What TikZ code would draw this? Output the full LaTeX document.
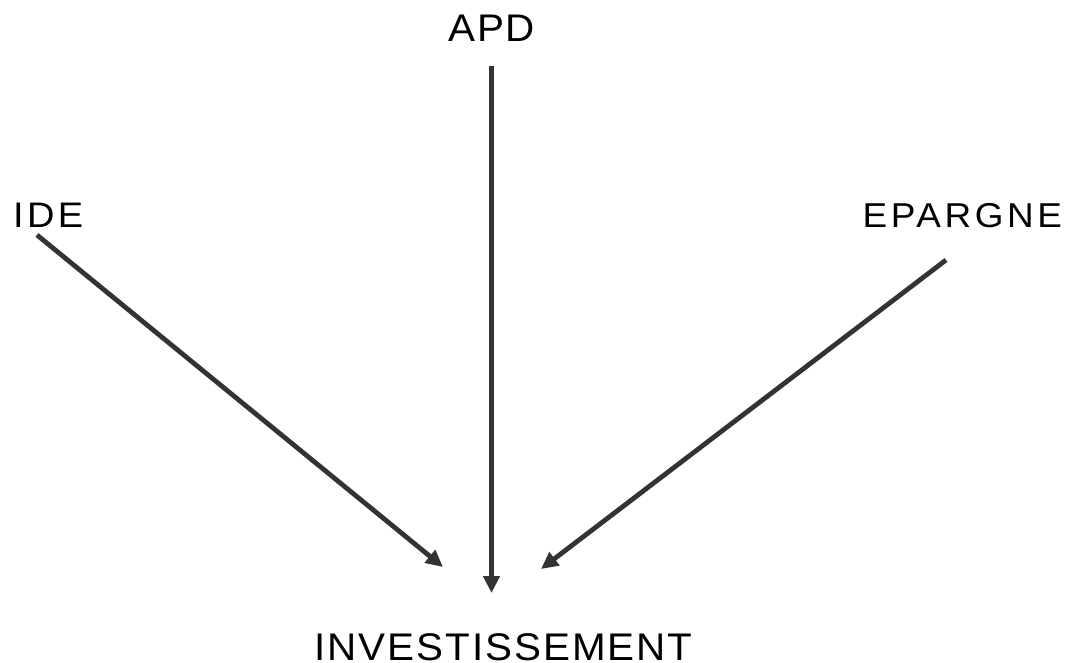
\documentclass[tikz,border=0pt]{standalone}
\usepackage{fontspec}
\setmainfont{Liberation Sans}
\usetikzlibrary{arrows.meta}
\definecolor{arrowgray}{HTML}{333333}
\tikzset{
  lbl/.style={inner sep=0pt, anchor=base, text=black},
  flow/.style={draw=arrowgray, line width=4.8pt, -{Triangle[length=17pt,width=16pt]}}
}
\begin{document}
\begin{tikzpicture}[x=1pt,y=-1pt]
\useasboundingbox (0,0) rectangle (1068,663);
\node[lbl] (apd) at (491.8,42) {\scalebox{1.05}[1]{\fontsize{38.5}{41}\selectfont\addfontfeature{LetterSpace=4}APD}};
\node[lbl] (ide) at (48.2,227.3) {\scalebox{1.07}[1]{\fontsize{35.5}{38}\selectfont\addfontfeature{LetterSpace=9}IDE}};
\node[lbl] (epa) at (962.3,227.3) {\scalebox{1.07}[1]{\fontsize{34.5}{37}\selectfont\addfontfeature{LetterSpace=9.7}EPARGNE}};
\node[lbl] (inv) at (503.5,660.5) {\scalebox{1.05}[1]{\fontsize{38.5}{41}\selectfont\addfontfeature{LetterSpace=4.8}INVESTISSEMENT}};
\coordinate (a0) at (491.5,66);
\coordinate (a1) at (491.5,593);
\coordinate (i0) at (37,235);
\coordinate (i1) at (443,567);
\coordinate (e0) at (946,260);
\coordinate (e1) at (541,569);
\draw[flow] (a0) -- (a1);
\draw[flow] (i0) -- (i1);
\draw[flow] (e0) -- (e1);
\end{tikzpicture}
\end{document}
